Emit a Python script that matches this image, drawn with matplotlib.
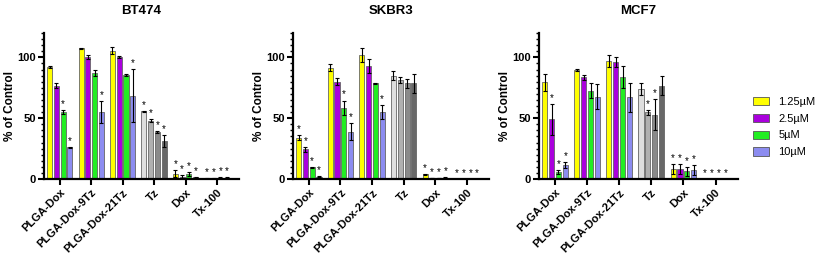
import numpy as np
import matplotlib
matplotlib.use("Agg")
import matplotlib.pyplot as plt
from matplotlib.ticker import MultipleLocator
from matplotlib.patches import Patch

plt.rcParams["font.family"] = ["Liberation Sans", "DejaVu Sans"]

# === DATA ===
groups = ["PLGA-Dox", "PLGA-Dox-9Tz", "PLGA-Dox-21Tz", "Tz", "Dox", "Tx-100"]
doses = ["1.25µM", "2.5µM", "5µM", "10µM"]
titles = ["BT474", "SKBR3", "MCF7"]

# rows = groups, cols = doses
bt474_mean = [[92, 76.5, 55, 26],
              [107.5, 100.5, 87, 55],
              [105.5, 100.5, 85.5, 68.5],
              [55.5, 48, 38.5, 31.5],
              [4.4, 1.6, 4, 1.4],
              [0.3, 0.5, 1, 1]]
bt474_err = [[1, 2, 1.5, 0.5],
             [0.5, 1.5, 2.5, 9],
             [3, 1, 1, 22],
             [0.5, 1, 1, 5],
             [3, 1.5, 1.5, 0.5],
             [0.2, 0.3, 0.3, 0.3]]
bt474_sig = [[0, 0, 1, 1],
             [0, 0, 0, 1],
             [0, 0, 0, 1],
             [1, 1, 1, 1],
             [1, 1, 1, 1],
             [1, 1, 1, 1]]

skbr3_mean = [[34, 24.6, 9.5, 1.8],
              [91.5, 80, 58.5, 38.8],
              [102, 92.8, 78.5, 55],
              [85, 81, 78.6, 78.6],
              [3.8, 0.8, 0.8, 1.2],
              [0, 0, 0, 0]]
skbr3_err = [[2, 2, 0.5, 0.5],
             [3, 3, 6, 7],
             [6, 6, 0.5, 6],
             [3.5, 2.5, 4, 8],
             [0.5, 0.3, 0.3, 0.3],
             [0, 0, 0, 0]]
skbr3_sig = [[1, 1, 1, 1],
             [0, 0, 1, 1],
             [0, 0, 0, 1],
             [0, 0, 0, 0],
             [1, 1, 1, 1],
             [1, 1, 1, 1]]

mcf7_mean = [[79.4, 49, 5.5, 11.5],
             [89.5, 83.6, 72.5, 67.8],
             [97, 96, 83.6, 67.2],
             [74, 54.7, 53, 76.7],
             [8, 8.5, 6.2, 7.5],
             [0, 0, 0, 0]]
mcf7_err = [[7, 13, 1.5, 2.5],
            [1, 2, 6, 10],
            [5, 4, 9, 12],
            [5, 2, 13, 8],
            [4, 4, 4, 4],
            [0, 0, 0, 0]]
mcf7_sig = [[0, 1, 1, 1],
            [0, 0, 0, 0],
            [0, 0, 0, 0],
            [0, 1, 1, 0],
            [1, 1, 1, 1],
            [1, 1, 1, 1]]

# === STYLE ===
dose_colors = ["#ffff00", "#aa00dd", "#22ee22", "#8c8cf0"]
tz_colors = ["#dedede", "#b0b0b0", "#8a8a8a", "#686868"]
tx_colors = ["#707070", "#606060", "#505050", "#404040"]

fig = plt.figure(figsize=(8.17, 2.58), dpi=100)
ax_pos = [[44, 239], [293, 489], [539, 738]]
bottom, top = 179, 33
W, H = 817, 258

panels = [(bt474_mean, bt474_err, bt474_sig),
          (skbr3_mean, skbr3_err, skbr3_sig),
          (mcf7_mean, mcf7_err, mcf7_sig)]

offset = 0.215
width = 0.16
x = np.arange(len(groups))

for k, (mean, err, sig) in enumerate(panels):
    l, r = ax_pos[k]
    ax = fig.add_axes([l / W, 1 - bottom / H, (r - l) / W, (bottom - top) / H])
    mean = np.array(mean)
    err = np.array(err)
    for gi in range(len(groups)):
        if groups[gi] == "Tz":
            cols = tz_colors
        elif groups[gi] == "Tx-100":
            cols = tx_colors
        else:
            cols = dose_colors
        for di in range(len(doses)):
            xi = x[gi] + (di - 1.5) * offset
            v = mean[gi, di]
            e = err[gi, di]
            ax.bar(xi, v, width, color=cols[di], edgecolor="#666666", linewidth=0.6, zorder=2)
            if e > 0:
                ax.errorbar(xi, v, yerr=e, fmt="none", ecolor="black", elinewidth=0.8,
                            capsize=1.2, capthick=0.8, zorder=3)
            if sig[gi][di]:
                ax.text(xi, v + e + 0.8, "*", ha="center", va="bottom", fontsize=7, zorder=4)

    ax.set_xlim(-0.5, 5.7)
    ax.set_ylim(0, 120)
    ax.set_xticks(x)
    ax.set_xticklabels(groups, rotation=45, ha="right", rotation_mode="anchor",
                       fontsize=8, fontweight="bold")
    ax.set_yticks([0, 50, 100])
    ax.set_yticklabels(["0", "50", "100"], fontsize=8, fontweight="bold")
    ax.yaxis.set_minor_locator(MultipleLocator(5))
    ax.tick_params(axis="both", which="major", direction="out", length=4, width=1.5, pad=2)
    ax.tick_params(axis="y", which="minor", direction="out", length=2.5, width=1)
    ax.spines["top"].set_visible(False)
    ax.spines["right"].set_visible(False)
    ax.spines["left"].set_linewidth(1.6)
    ax.spines["bottom"].set_linewidth(1.6)
    ax.set_ylabel("% of Control", fontsize=8.5, fontweight="bold", labelpad=0.5)
    ax.set_title(titles[k], fontsize=9.5, fontweight="bold", pad=14)

handles = [Patch(facecolor=c, edgecolor="#555555", linewidth=0.6) for c in dose_colors]
fig.legend(handles, doses, loc="center left", bbox_to_anchor=(753 / W, 1 - 127 / H),
           frameon=False, fontsize=8, handlelength=1.4, handleheight=0.75,
           handletextpad=0.9, labelspacing=0.62, borderpad=0, borderaxespad=0)

fig.savefig("out.png", dpi=100)
